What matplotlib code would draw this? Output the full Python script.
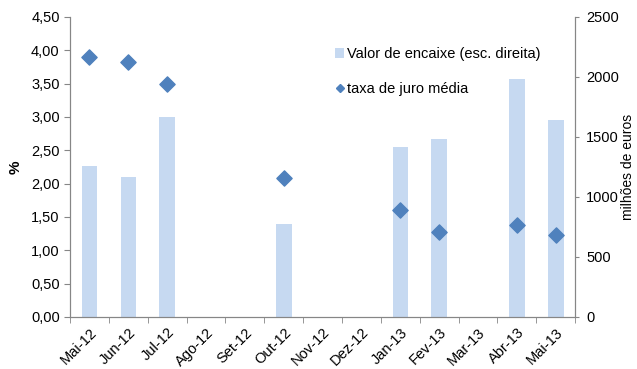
import matplotlib
matplotlib.use("Agg")
import matplotlib.pyplot as plt
from matplotlib.lines import Line2D
from matplotlib.patches import Patch
import numpy as np

plt.rcParams["font.family"] = ["Liberation Sans", "DejaVu Sans"]

months = ["Mai-12", "Jun-12", "Jul-12", "Ago-12", "Set-12", "Out-12", "Nov-12",
          "Dez-12", "Jan-13", "Fev-13", "Mar-13", "Abr-13", "Mai-13"]
# valor de encaixe, milhões de euros (escala direita)
encaixe = [1260, 1170, 1665, np.nan, np.nan, 775, np.nan,
           np.nan, 1417, 1483, np.nan, 1983, 1640]
# taxa de juro média, %
taxa = [3.90, 3.82, 3.49, np.nan, np.nan, 2.08, np.nan,
        np.nan, 1.60, 1.27, np.nan, 1.38, 1.23]

BAR = "#C6D9F1"
DOT = "#4F81BD"
AXIS = "#868686"

fig = plt.figure(figsize=(6.37, 3.69), dpi=100)
ax = fig.add_axes([0.11, 0.141, 0.793, 0.813])
ax2 = ax.twinx()

x = np.arange(len(months))
ax2.bar(x, encaixe, width=0.4, color=BAR, zorder=1)
ax.scatter(x, taxa, marker="D", s=60, color=DOT, zorder=3)

# scatter axis above the bars
ax.set_zorder(ax2.get_zorder() + 1)
ax.patch.set_visible(False)

ax.set_xlim(-0.5, len(months) - 0.5)
ax.set_ylim(0, 4.5)
ax.set_yticks(np.arange(0, 4.51, 0.5))
ax.set_yticklabels([f"{v:.2f}".replace(".", ",") for v in np.arange(0, 4.51, 0.5)])
ax2.set_ylim(0, 2500)
ax2.set_yticks(range(0, 2501, 500))

ax.set_xticks(x)
ax.set_xticklabels(months, rotation=45, ha="right", rotation_mode="anchor")
ax.set_xticks(np.arange(-0.5, len(months)), minor=True)
ax.tick_params(axis="x", which="major", length=0, pad=6, labelsize=10.5)
ax.tick_params(axis="x", which="minor", length=4, color=AXIS)
ax.tick_params(axis="y", length=4, color=AXIS, labelsize=10.5)
ax2.tick_params(axis="y", length=3, color=AXIS, labelsize=10.5, pad=5)

for a in (ax, ax2):
    a.spines["top"].set_visible(False)
    for s in ("left", "right", "bottom"):
        a.spines[s].set_color(AXIS)

ax.set_ylabel("%", fontsize=11, fontweight="bold", labelpad=6)
ax2.set_ylabel("milhões de euros", fontsize=10, labelpad=1)

handles = [Patch(facecolor=BAR, edgecolor="none"),
           Line2D([], [], marker="D", color=DOT, linestyle="none", markersize=4)]
labels = ["Valor de encaixe (esc. direita)", "taxa de juro média"]
ax.legend(handles, labels, loc="upper left", bbox_to_anchor=(0.525, 0.90),
          frameon=False, fontsize=10.5, handlelength=0.6, handletextpad=0.2,
          labelspacing=1.45, borderaxespad=0, borderpad=0)

fig.savefig("out.png", dpi=100)
